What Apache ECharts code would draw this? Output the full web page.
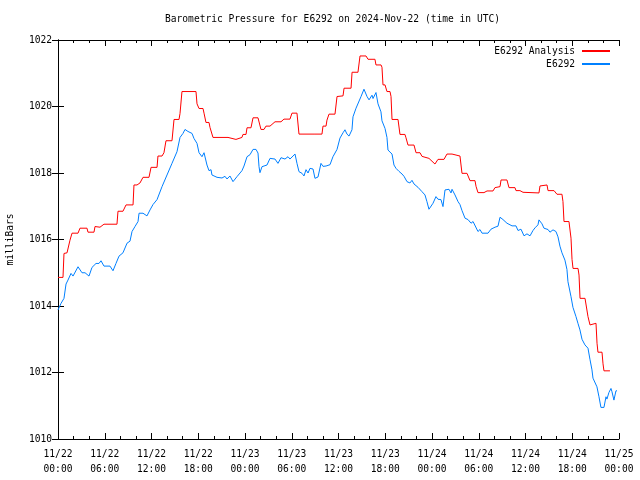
<!DOCTYPE html>
<html>
<head>
<meta charset="utf-8">
<script src="https://cdn.jsdelivr.net/npm/echarts@6/dist/echarts.min.js"></script>
<style>html,body{margin:0;padding:0;background:#fff;}#c{width:640px;height:480px;}</style>
</head>
<body>
<div id="c"></div>
<script>
// Hours since 2024-11-22 00:00 UTC
const xTickLabels = ['11/22\n00:00','11/22\n06:00','11/22\n12:00','11/22\n18:00','11/23\n00:00','11/23\n06:00','11/23\n12:00','11/23\n18:00','11/24\n00:00','11/24\n06:00','11/24\n12:00','11/24\n18:00','11/25\n00:00'];
const yTicks = [1010,1012,1014,1016,1018,1020,1022];

const analysisHours = [0,0.64,0.77,1.16,1.54,1.80,2.57,2.82,3.72,3.85,4.62,4.75,5.39,5.90,7.57,7.70,8.34,8.73,9.63,9.75,10.14,10.52,10.91,11.68,11.94,12.71,12.83,13.35,13.60,13.86,14.63,14.89,15.53,15.66,15.91,17.71,17.84,18.10,18.61,18.74,18.99,19.38,19.51,19.76,19.89,21.82,22.00,22.84,22.97,23.61,23.74,24.13,24.26,24.77,25.03,25.67,26.05,26.44,26.69,27.21,27.85,28.62,29.00,29.77,30.03,30.67,30.93,32.86,33.88,34.01,34.40,34.52,34.65,34.78,35.55,35.81,36.58,36.71,37.61,37.74,38.50,38.76,39.53,39.79,40.68,40.81,41.46,41.58,41.71,41.97,42.22,42.61,42.74,42.87,43.64,43.89,44.53,44.66,44.92,45.69,45.95,46.46,46.72,46.84,47.61,48.38,48.77,49.54,49.92,50.57,50.69,51.59,51.85,52.49,52.88,53.52,53.65,53.78,53.90,54.67,55.06,55.83,56.08,56.73,56.86,57.62,57.88,58.65,58.78,59.29,59.68,61.73,61.86,61.99,62.76,62.89,63.66,64.04,64.68,64.81,64.94,65.58,65.84,65.97,66.10,66.74,66.87,67.00,67.64,67.89,68.02,68.28,69.05,69.18,69.30,69.82,69.95,70.07,70.84];
const analysisValues = [1014.86,1014.86,1015.58,1015.60,1015.98,1016.19,1016.19,1016.34,1016.34,1016.22,1016.22,1016.39,1016.37,1016.46,1016.46,1016.85,1016.85,1017.04,1017.04,1017.64,1017.64,1017.70,1017.87,1017.87,1018.17,1018.17,1018.51,1018.51,1018.61,1018.97,1018.97,1019.61,1019.61,1019.79,1020.45,1020.45,1020.08,1019.94,1019.94,1019.80,1019.52,1019.52,1019.37,1019.37,1019.07,1019.07,1019.01,1019.01,1019.07,1019.07,1019.16,1019.16,1019.36,1019.36,1019.66,1019.66,1019.31,1019.31,1019.41,1019.41,1019.54,1019.54,1019.62,1019.62,1019.80,1019.80,1019.17,1019.17,1019.17,1019.41,1019.41,1019.59,1019.59,1019.77,1019.77,1020.30,1020.32,1020.55,1020.55,1021.03,1021.03,1021.52,1021.52,1021.42,1021.42,1021.25,1021.25,1021.18,1020.65,1020.65,1020.45,1020.45,1020.30,1019.61,1019.61,1019.16,1019.16,1019.06,1018.84,1018.84,1018.61,1018.61,1018.50,1018.44,1018.44,1018.27,1018.41,1018.41,1018.57,1018.57,1018.51,1018.51,1017.99,1017.99,1017.77,1017.77,1017.60,1017.60,1017.41,1017.41,1017.46,1017.46,1017.56,1017.59,1017.79,1017.79,1017.56,1017.56,1017.47,1017.47,1017.42,1017.40,1017.61,1017.64,1017.64,1017.47,1017.47,1017.36,1017.36,1017.14,1016.54,1016.54,1016.04,1015.40,1015.13,1015.13,1014.93,1014.23,1014.23,1014.25,1013.68,1013.43,1013.48,1012.88,1012.61,1012.61,1012.26,1012.05,1012.05];

const stationHours = [0,0.39,0.77,1.03,1.28,1.67,1.93,2.18,2.57,2.82,3.08,3.47,3.72,3.98,4.36,4.88,5.26,5.52,5.90,6.67,7.06,7.44,7.83,8.34,8.86,9.24,9.50,9.88,10.27,10.40,10.91,11.42,11.81,12.19,12.71,13.35,13.99,14.63,15.27,15.66,16.04,16.30,16.68,17.20,17.45,17.84,18.10,18.48,18.74,19.12,19.38,19.64,19.76,20.41,21.05,21.43,21.69,22.07,22.46,22.97,23.61,23.87,24.26,24.64,25.03,25.41,25.67,25.80,25.92,26.18,26.82,27.21,27.85,28.10,28.23,28.62,29.13,29.52,29.77,30.42,30.67,30.93,31.32,31.57,31.83,32.09,32.34,32.73,32.98,33.37,33.75,34.01,34.40,34.91,35.29,35.81,36.19,36.58,36.83,37.09,37.35,37.73,37.86,38.25,38.50,38.89,39.27,39.66,39.92,40.30,40.43,40.81,41.07,41.45,41.58,41.97,42.22,42.35,42.87,43.12,43.38,43.76,44.15,44.41,44.79,44.92,45.17,45.43,45.69,45.94,46.20,46.71,47.10,47.35,47.61,48.13,48.51,48.77,49.15,49.41,49.67,50.18,50.44,50.57,50.95,51.34,51.59,51.85,52.24,52.62,53.01,53.27,53.52,53.90,54.16,54.42,55.19,55.57,56.09,56.47,56.73,57.11,57.62,58.27,58.78,59.04,59.42,59.81,60.19,60.58,60.96,61.22,61.60,61.73,62.12,62.37,62.89,63.14,63.53,63.91,64.17,64.42,64.68,65.06,65.32,65.45,65.84,66.09,66.48,66.73,66.99,67.25,67.63,68.02,68.27,68.53,68.66,68.91,69.17,69.43,69.68,70.07,70.33,70.45,70.71,70.97,71.10,71.35,71.61,71.74];
const stationValues = [1013.88,1014.08,1014.23,1014.66,1014.78,1014.98,1014.90,1014.92,1015.18,1015.18,1015.00,1015.00,1015.06,1014.90,1015.16,1015.28,1015.28,1015.36,1015.20,1015.20,1015.06,1015.28,1015.50,1015.60,1015.89,1015.95,1016.24,1016.39,1016.54,1016.79,1016.79,1016.71,1016.89,1017.05,1017.20,1017.59,1017.94,1018.29,1018.64,1019.07,1019.19,1019.31,1019.25,1019.19,1019.04,1018.89,1018.61,1018.49,1018.61,1018.24,1018.07,1018.10,1017.94,1017.87,1017.85,1017.90,1017.82,1017.91,1017.74,1017.89,1018.07,1018.21,1018.49,1018.55,1018.71,1018.71,1018.60,1018.19,1018.01,1018.19,1018.24,1018.44,1018.42,1018.44,1018.29,1018.46,1018.42,1018.49,1018.42,1018.57,1018.29,1018.04,1017.99,1017.91,1018.10,1018.00,1018.14,1018.12,1017.84,1017.88,1018.29,1018.20,1018.21,1018.25,1018.49,1018.71,1019.05,1019.21,1019.30,1019.17,1019.11,1019.30,1019.69,1019.95,1019.97,1020.30,1020.52,1020.30,1020.20,1020.34,1020.24,1020.42,1020.08,1019.84,1019.57,1019.34,1019.07,1018.69,1018.57,1018.24,1018.14,1018.05,1017.97,1017.90,1017.74,1017.80,1017.70,1017.78,1017.67,1017.68,1017.57,1017.44,1017.34,1017.14,1016.91,1017.09,1017.29,1017.21,1017.20,1016.99,1017.49,1017.51,1017.40,1017.51,1017.34,1017.14,1017.05,1016.87,1016.64,1016.60,1016.49,1016.54,1016.59,1016.24,1016.30,1016.19,1016.19,1016.31,1016.37,1016.40,1016.67,1016.60,1016.49,1016.41,1016.41,1016.27,1016.31,1016.11,1016.17,1016.11,1016.27,1016.35,1016.44,1016.59,1016.47,1016.34,1016.30,1016.22,1016.29,1016.24,1016.08,1015.80,1015.60,1015.38,1015.10,1014.73,1014.28,1013.96,1013.68,1013.48,1013.28,1013.00,1012.83,1012.73,1012.40,1012.08,1011.83,1011.85,1011.57,1011.27,1010.95,1010.95,1011.27,1011.20,1011.40,1011.52,1011.42,1011.17,1011.45,1011.45];

const FONT = 'DejaVu Sans Mono';
const FS = 9.6;
const pair = (hs, vs) => hs.map((h, i) => [h, vs[i]]);

const chart = echarts.init(document.getElementById('c'), null, {renderer: 'canvas'});
const xBase = {
  type: 'value', min: 0, max: 72, interval: 6,
  axisLine: {show: true, lineStyle: {color: '#000', width: 1}},
  axisTick: {show: true, inside: true, length: 6, lineStyle: {color: '#000'}},
  minorTick: {show: true, splitNumber: 3, length: 3, lineStyle: {color: '#000'}},
  splitLine: {show: false}
};
const yBase = {
  type: 'value', min: 1010, max: 1022, interval: 2,
  axisLine: {show: true, lineStyle: {color: '#000', width: 1}},
  axisTick: {show: true, inside: true, length: 6, lineStyle: {color: '#000'}},
  splitLine: {show: false}
};
const legendText = {fontFamily: FONT, fontSize: FS, color: '#000', padding: [0, 2, 0, 0]};
chart.setOption({
  animation: false,
  backgroundColor: '#fff',
  title: {
    text: 'Barometric Pressure for E6292 on 2024-Nov-22 (time in UTC)',
    left: 160, top: 9,
    textStyle: {fontFamily: FONT, fontSize: FS, fontWeight: 'normal', color: '#000'}
  },
  legend: [
    {data: ['E6292 Analysis'], right: 25, top: 41, itemWidth: 28, itemHeight: 2, itemGap: 0,
     align: 'right', icon: 'rect', textStyle: legendText},
    {data: ['E6292'], right: 25, top: 54, itemWidth: 28, itemHeight: 2, itemGap: 0,
     align: 'right', icon: 'rect', textStyle: legendText}
  ],
  grid: {left: 58, right: 21, top: 40, bottom: 41, containLabel: false, outerBoundsMode: 'none'},
  xAxis: [
    Object.assign({}, xBase, {
      position: 'bottom',
      axisLabel: {
        fontFamily: FONT, fontSize: FS, color: '#000', margin: 8, lineHeight: 15,
        formatter: v => xTickLabels[Math.round(v / 6)]
      }
    }),
    Object.assign({}, xBase, {position: 'top', axisLabel: {show: false}})
  ],
  yAxis: [
    Object.assign({}, yBase, {
      position: 'left',
      name: 'milliBars', nameLocation: 'middle', nameGap: 43, nameRotate: 90,
      nameTextStyle: {fontFamily: FONT, fontSize: FS, color: '#000'},
      axisLabel: {fontFamily: FONT, fontSize: FS, color: '#000', margin: 6,
        formatter: v => (yTicks.indexOf(v) >= 0 ? String(v) : '')}
    }),
    Object.assign({}, yBase, {position: 'right', axisLabel: {show: false}})
  ],
  series: [
    {name: 'E6292 Analysis', type: 'line', xAxisIndex: 0, yAxisIndex: 0,
     data: pair(analysisHours, analysisValues), showSymbol: false, symbol: 'none',
     itemStyle: {color: '#ff0000'}, lineStyle: {color: '#ff0000', width: 1}},
    {name: 'E6292', type: 'line', xAxisIndex: 0, yAxisIndex: 0,
     data: pair(stationHours, stationValues), showSymbol: false, symbol: 'none',
     itemStyle: {color: '#0080ff'}, lineStyle: {color: '#0080ff', width: 1}}
  ]
});
</script>
</body>
</html>
